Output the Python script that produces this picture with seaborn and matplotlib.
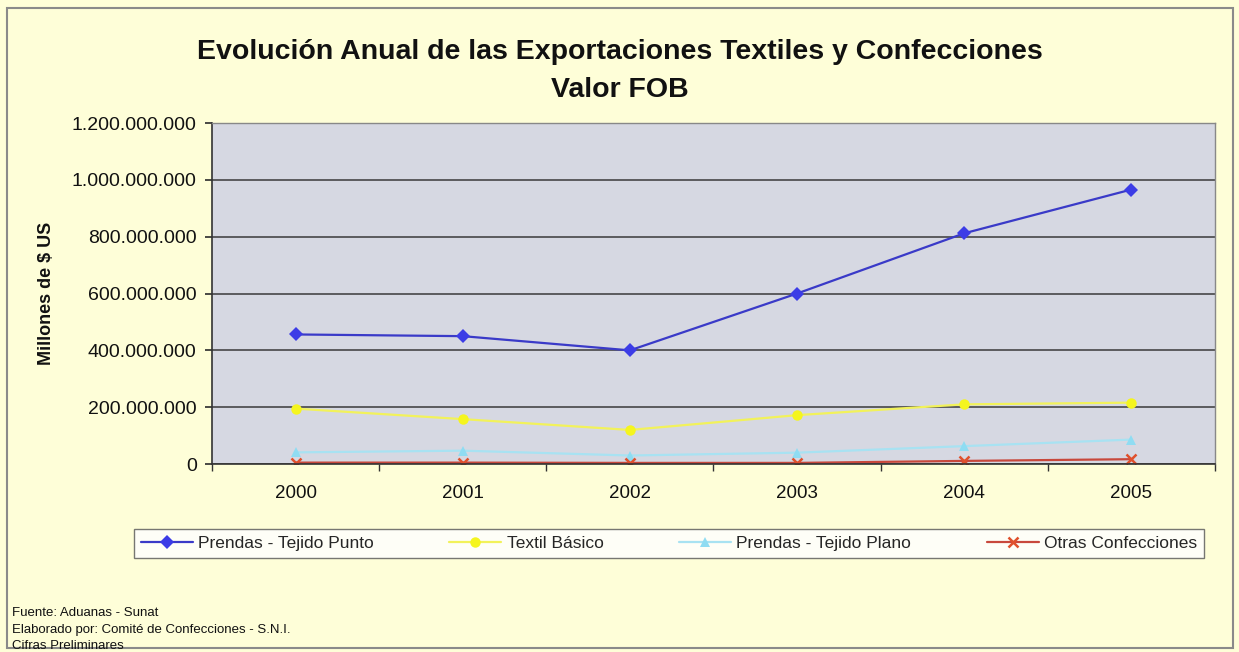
import matplotlib
matplotlib.use("Agg")
import matplotlib.pyplot as plt
from matplotlib.patches import Rectangle
from matplotlib.ticker import FuncFormatter, FixedLocator
import seaborn as sns
import pandas as pd

# Export values (FOB, US$) by product group
years = ["2000", "2001", "2002", "2003", "2004", "2005"]
tejido_punto = [456e6, 450e6, 400e6, 600e6, 812e6, 966e6]
textil_basico = [195e6, 158e6, 120e6, 172e6, 210e6, 216e6]
tejido_plano = [41e6, 47e6, 30e6, 40e6, 63e6, 86e6]
otras_confecciones = [5e6, 5e6, 4e6, 4e6, 11e6, 17e6]

series_names = ["Prendas - Tejido Punto", "Textil Básico",
                "Prendas - Tejido Plano", "Otras Confecciones"]
series_values = [tejido_punto, textil_basico, tejido_plano, otras_confecciones]

rows = []
for name, vals in zip(series_names, series_values):
    for y, v in zip(years, vals):
        rows.append({"Año": y, "Valor": v, "Serie": name})
df = pd.DataFrame(rows)

palette = {
    "Prendas - Tejido Punto": "#3a3ac8",
    "Textil Básico": "#f2f25a",
    "Prendas - Tejido Plano": "#a8e2f2",
    "Otras Confecciones": "#c8483c",
}
markers = {
    "Prendas - Tejido Punto": "D",
    "Textil Básico": "o",
    "Prendas - Tejido Plano": "^",
    "Otras Confecciones": "X",
}
marker_colors = {
    "Prendas - Tejido Punto": "#3c3ce6",
    "Textil Básico": "#f5f51e",
    "Prendas - Tejido Plano": "#8fdcf2",
    "Otras Confecciones": "#e0502c",
}

sns.set_theme(style="white")
plt.rcParams["font.family"] = ["Liberation Sans", "DejaVu Sans"]

bg = "#fefed8"
fig = plt.figure(figsize=(12.39, 6.52), dpi=100, facecolor=bg)
ax = fig.add_axes([0.1711, 0.2883, 0.8095, 0.5230])
ax.set_facecolor("#d6d8e2")

sns.lineplot(data=df, x="Año", y="Valor", hue="Serie", style="Serie",
             palette=palette, markers=markers, dashes=False, sort=False,
             linewidth=1.6, markersize=7.5, markeredgewidth=0,
             legend=False, ax=ax)

# markers a little brighter than the lines
for line, name in zip(ax.get_lines(), series_names):
    line.set_markerfacecolor(marker_colors[name])
    line.set_markeredgecolor(marker_colors[name])
    if name == "Otras Confecciones":
        line.set_marker("x")
        line.set_markeredgewidth(1.8)
        line.set_markersize(6.5)

ax.set_xlim(-0.5, len(years) - 0.5)
ax.set_ylim(0, 1.2e9)
ax.yaxis.set_major_locator(FixedLocator([i * 2e8 for i in range(7)]))
ax.yaxis.set_major_formatter(
    FuncFormatter(lambda v, p: f"{int(v):,}".replace(",", ".")))
ax.grid(axis="y", color="#3a3a3a", linewidth=1.1)
ax.grid(axis="x", visible=False)

ax.set_xticks(range(len(years)))
ax.set_xticklabels(years)
ax.set_xticks([i + 0.5 for i in range(-1, len(years))], minor=True)
ax.tick_params(axis="x", which="major", length=0, labelsize=13.5, pad=15,
               labelcolor="#111111")
ax.tick_params(axis="x", which="minor", length=5, color="#333333",
               direction="out", bottom=True)
ax.tick_params(axis="y", length=5, color="#333333", direction="out",
               left=True, labelsize=14, pad=6, labelcolor="#111111")

ax.set_xlabel("")
ax.set_ylabel("Millones de $ US", fontsize=13, fontweight="bold",
              labelpad=12, color="#111111")

for side in ["left", "bottom"]:
    ax.spines[side].set_color("#333333")
    ax.spines[side].set_linewidth(1.2)
for side in ["top", "right"]:
    ax.spines[side].set_color("#888888")
    ax.spines[side].set_linewidth(1.0)

fig.text(0.5, 0.920, "Evolución Anual de las Exportaciones Textiles y Confecciones",
         ha="center", va="center", fontsize=20.5, fontweight="bold",
         color="#111111")
fig.text(0.5, 0.862, "Valor FOB", ha="center", va="center",
         fontsize=20.5, fontweight="bold", color="#111111")

# Legend built from the plotted lines
handles = ax.get_lines()[:len(series_names)]
leg = fig.legend(handles, series_names, loc="lower left", ncol=4,
                 mode="expand",
                 bbox_to_anchor=(125 / 1239, 1 - 567 / 652, 1088 / 1239, 33 / 652),
                 frameon=True, fancybox=False, fontsize=12.5,
                 handlelength=3.0, handletextpad=0.3, borderpad=0.4,
                 shadow=False)
leg.get_frame().set_facecolor("white")
leg.get_frame().set_edgecolor("#555555")
leg.get_frame().set_linewidth(1.0)

# Footer notes
notes = ["Fuente: Aduanas - Sunat",
         "Elaborado por: Comité de Confecciones - S.N.I.",
         "Cifras Preliminares"]
for i, t in enumerate(notes):
    fig.text(12 / 1239, 1 - (613 + 16.5 * i) / 652, t, ha="left",
             va="center", fontsize=9.5, color="#111111")

# Outer chart frame
fig.patches.append(Rectangle((7 / 1239, 4 / 652), 1226 / 1239, 640 / 652,
                             transform=fig.transFigure, fill=False,
                             edgecolor="#8a8a8a", linewidth=1.5))

fig.savefig("out.png", dpi=100, facecolor=bg)
